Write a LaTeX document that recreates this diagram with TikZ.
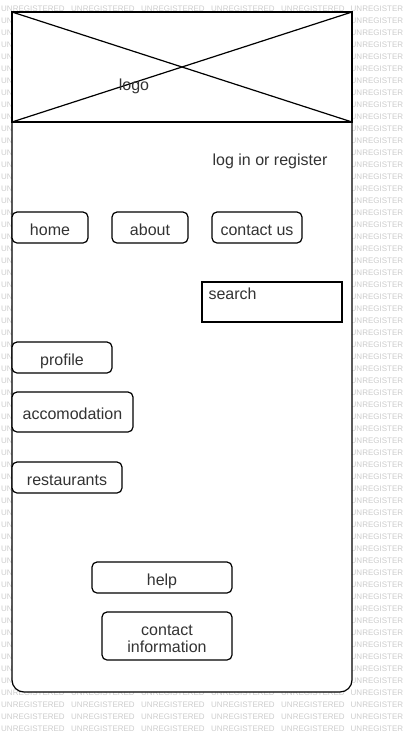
\documentclass[tikz,border=0pt]{standalone}
\usepackage{fontspec}
\setmainfont{Liberation Sans}
\usepackage{xcolor}
\usepackage{tikz}
\usetikzlibrary{positioning,calc}

\definecolor{inktext}{HTML}{333333}
\definecolor{stamp}{HTML}{CCCCCC}

\begin{document}
\begin{tikzpicture}[x=1pt, y=-1pt,
    wire/.style={draw=black, line width=1.2pt},
    label/.style={text=inktext, font=\fontsize{16}{17}\selectfont, inner sep=0pt,
        text height=15.5pt, text depth=0pt},
    button/.style={wire, rounded corners=5pt, fill=white, text=inktext,
        font=\fontsize{16}{17}\selectfont, inner sep=0pt, align=center,
        text height=15.5pt, text depth=0pt},
    stamptext/.style={text=stamp, font=\fontsize{8}{8}\selectfont, inner sep=0pt, anchor=west}]
    \useasboundingbox (0,0) rectangle (402,742);

    % Watermark
    \foreach \r in {0,57,58,59,60} {
        \foreach \c in {0,...,4} {
            \node[stamptext] (stamp-\r-\c) at ({1+70*\c},{8.3+12*\r}) {UNREGISTERED};
        }
    }
    \foreach \r in {0,...,60} {
        \node[stamptext] (stamp-\r-5) at (350.5,{8.3+12*\r}) {UNREGISTER};
    }
    \foreach \r in {1,...,56} {
        \node[stamptext] (stamp-\r-0) at (1,{8.3+12*\r}) {UN};
    }

    % Page frame
    \draw[wire, fill=white, rounded corners=12pt] (12,12) rectangle (352,692);

    % Logo
    \draw[wire, fill=white] (12,12) rectangle (352,122);
    \coordinate (logo-nw) at (12,12);
    \coordinate (logo-ne) at (352,12);
    \coordinate (logo-sw) at (12,122);
    \coordinate (logo-se) at (352,122);
    \draw[wire] (logo-nw) -- (logo-se);
    \draw[wire] (logo-sw) -- (logo-ne);
    \node[label] (logo) at (134,82.5) {logo};

    \node[label] (login) at (270,157.5) {log in or register};

    % Menu
    \node[button, minimum width=76pt, minimum height=31pt] (home) at (50,227.5) {home};
    \node[button, minimum width=76pt, minimum height=31pt] (about) at (150,227.5) {about};
    \node[button, minimum width=90pt, minimum height=31pt] (contact) at (257,227.5) {contact us};

    % Search
    \node[wire, fill=white, minimum width=140pt, minimum height=40pt, inner sep=0pt] (search) at (272,302) {};
    \node[label, anchor=north west] (searchtext) at ([xshift=7pt, yshift=-2.5pt]search.north west) {search};

    % Side buttons
    \node[button, minimum width=100pt, minimum height=31pt] (profile) at (62,357.5) {profile};
    \node[button, minimum width=121pt, minimum height=40pt] (accom) at (72.5,412) {accomodation};
    \node[button, minimum width=110pt, minimum height=31pt] (restaurants) at (67,477.5) {restaurants};

    % Footer
    \node[button, minimum width=140pt, minimum height=31pt] (help) at (162,577.5) {help};
    \node[button, minimum width=130pt, minimum height=48pt, text height=32.5pt] (info) at (167,636) {contact\\information};
\end{tikzpicture}
\end{document}
